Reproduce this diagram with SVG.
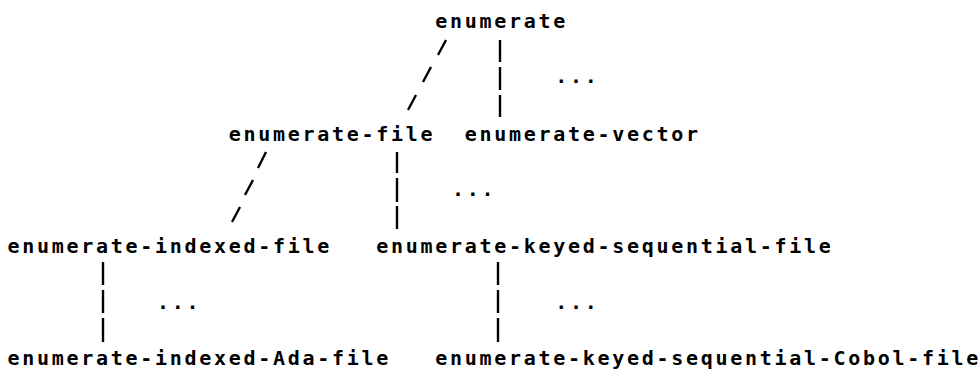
<svg xmlns="http://www.w3.org/2000/svg" width="980" height="369" viewBox="0 0 980 369">
<style>
.t{font-family:"DejaVu Sans Mono","Liberation Mono",monospace;font-size:20px;font-weight:bold;letter-spacing:2.71px;fill:#000}
.c line{stroke:#000;stroke-width:2.4;stroke-linecap:butt}
</style>
<rect width="980" height="369" fill="#fff"/>
<g id="connectors" class="c">
<line x1="500" y1="40" x2="500" y2="62"/><line x1="500" y1="67" x2="500" y2="90"/><line x1="500" y1="95" x2="500" y2="117"/>
<line x1="438" y1="55" x2="446" y2="40"/><line x1="423" y1="82" x2="431" y2="67"/><line x1="408" y1="110" x2="416" y2="95"/>
<line x1="397" y1="152" x2="397" y2="173"/><line x1="397" y1="178" x2="397" y2="202"/><line x1="397" y1="206" x2="397" y2="229"/>
<line x1="258" y1="168" x2="266" y2="152"/><line x1="245" y1="195" x2="253" y2="180"/><line x1="232" y1="222" x2="240" y2="207"/>
<line x1="103" y1="262" x2="103" y2="285"/><line x1="103" y1="290" x2="103" y2="313"/><line x1="103" y1="318" x2="103" y2="342"/>
<line x1="498" y1="262" x2="498" y2="285"/><line x1="498" y1="290" x2="498" y2="313"/><line x1="498" y1="318" x2="498" y2="342"/>
<text class="t" x="555.25" y="83">...</text>
<text class="t" x="452" y="196">...</text>
<text class="t" x="157" y="309">...</text>
<text class="t" x="555.25" y="309">...</text>
</g>
<g id="enumerate"><text class="t" x="435.25" y="28">enumerate</text></g>
<g id="enumerate-file"><text class="t" x="228.75" y="141">enumerate-file</text></g>
<g id="enumerate-vector"><text class="t" x="464.75" y="141">enumerate-vector</text></g>
<g id="enumerate-indexed-file"><text class="t" x="7.5" y="253">enumerate-indexed-file</text></g>
<g id="enumerate-keyed-sequential-file"><text class="t" x="376.25" y="253">enumerate-keyed-sequential-file</text></g>
<g id="enumerate-indexed-Ada-file"><text class="t" x="7.5" y="365">enumerate-indexed-Ada-file</text></g>
<g id="enumerate-keyed-sequential-Cobol-file"><text class="t" x="435.25" y="365">enumerate-keyed-sequential-Cobol-file</text></g>
</svg>
